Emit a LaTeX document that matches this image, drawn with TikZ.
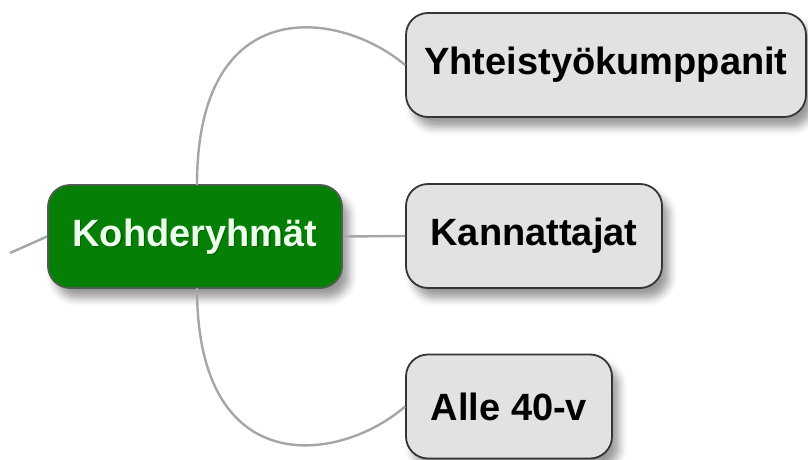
\documentclass[tikz,border=0pt]{standalone}
\usepackage{fontspec}
\setmainfont{Liberation Sans}
\usetikzlibrary{shadows.blur}

\definecolor{rootgreen}{HTML}{067F06}
\definecolor{rootedge}{HTML}{4E5E4E}
\definecolor{topicfill}{HTML}{E2E2E2}
\definecolor{topicedge}{HTML}{353535}
\definecolor{linkgray}{HTML}{A6A6A6}

\tikzset{
  boxshadow/.style={blur shadow={shadow xshift=7pt, shadow yshift=-10pt,
      shadow blur radius=8pt, shadow opacity=40}},
  labelfont/.style={font=\fontsize{38}{42}\selectfont\bfseries},
  rootbox/.style={draw=rootedge, line width=1.8pt, fill=rootgreen,
      rounded corners=22pt, boxshadow, inner sep=0pt},
  topicbox/.style={draw=topicedge, line width=1.8pt, fill=topicfill,
      rounded corners=22pt, boxshadow, inner sep=0pt, minimum height=104pt,
      labelfont, text=black},
  link/.style={draw=linkgray, line width=2.4pt},
}

\begin{document}
\begin{tikzpicture}[x=1pt,y=-1pt]
  \useasboundingbox (0,0) rectangle (808,460);

  % central topic: box, then a dark halo under the white label
  \node[rootbox, minimum width=294pt, minimum height=103pt] (root) at (195,236.5) {};
  \node[labelfont, text=black!70!green, opacity=0.6]
       (roottxtshadow) at (196.2,237.7) {Kohderyhmät};
  \node[labelfont, text=white!92!green] (roottxt) at (195,236.5) {Kohderyhmät};

  % subtopics
  \node[topicbox, minimum width=400pt] (yht) at (606,65) {Yhteistyökumppanit};
  \node[topicbox, minimum width=256pt] (kan) at (534,236) {Kannattajat};
  \node[topicbox, minimum width=206pt] (alle) at (509,406.5) {Alle 40-v};

  % connectors
  \coordinate (parent) at (10,253);
  \coordinate (roottop) at (197,185);
  \coordinate (rootbot) at (197,288);
  \path[link] (parent) -- (root.west);
  \path[link] (root.east) -- (kan.west);
  \path[link] (roottop) .. controls (197,-10) and (340,10) .. (yht.west);
  \path[link] (rootbot) .. controls (197,483) and (340,463) .. (alle.west);
\end{tikzpicture}
\end{document}
